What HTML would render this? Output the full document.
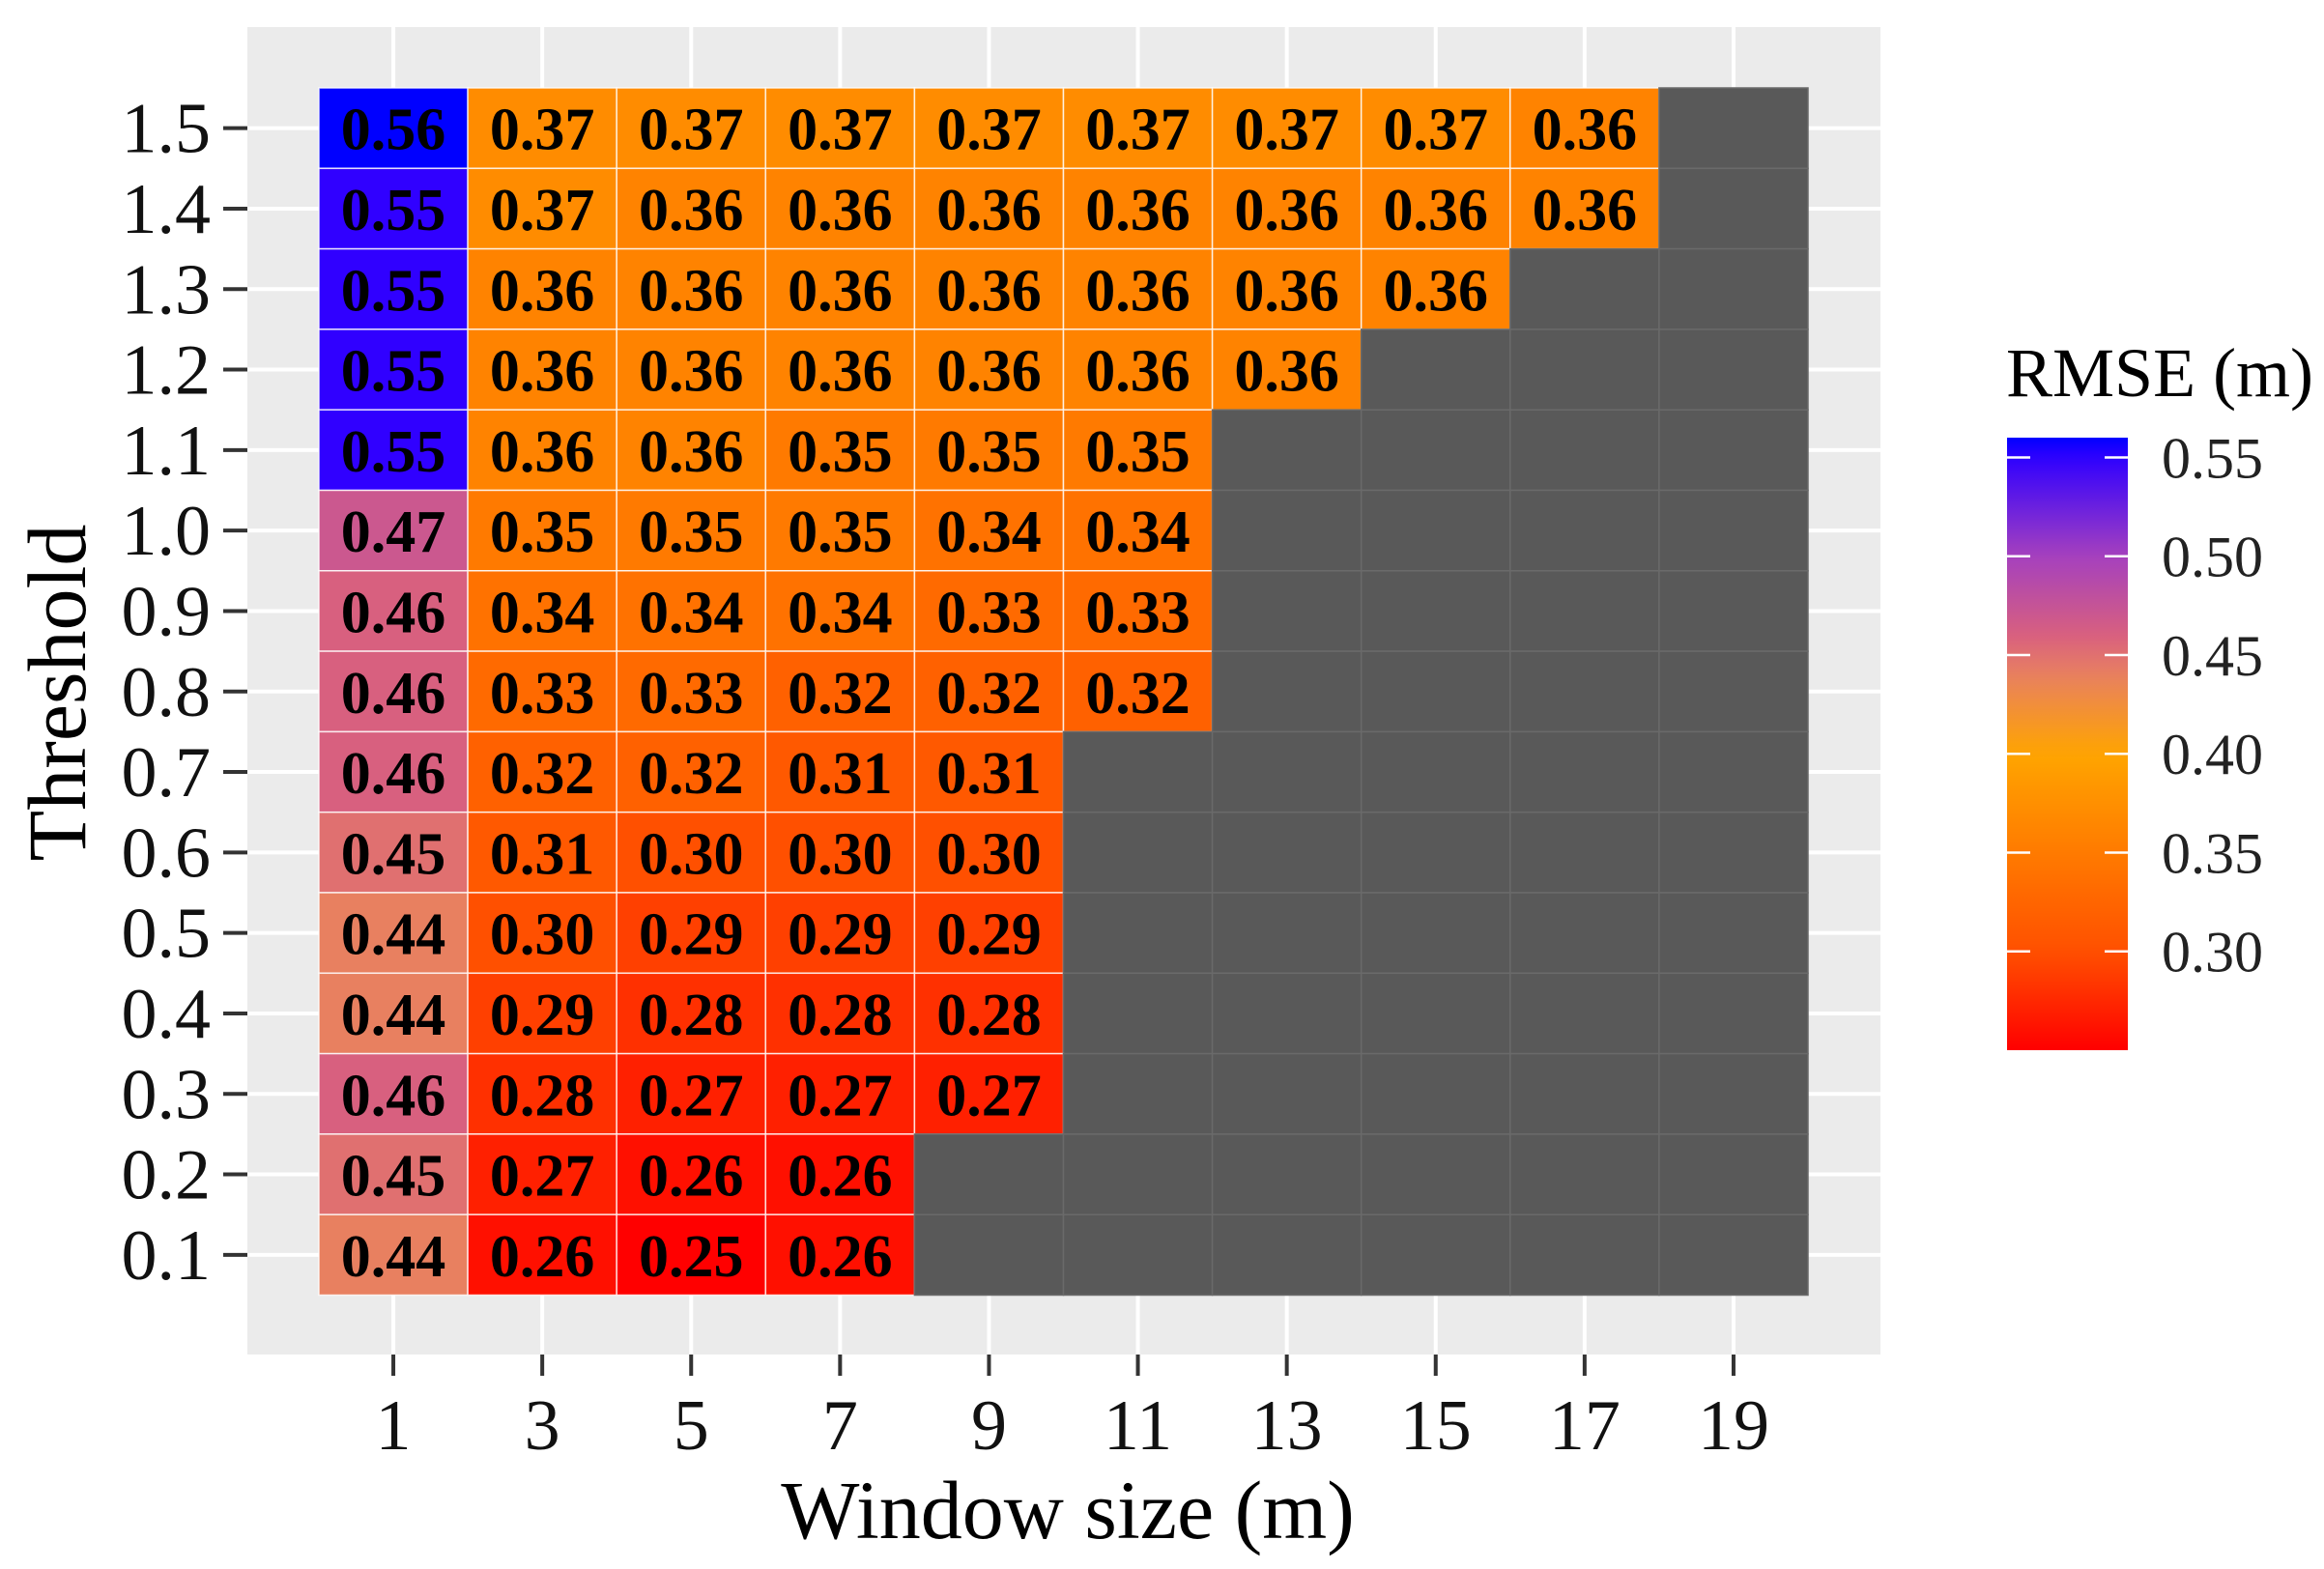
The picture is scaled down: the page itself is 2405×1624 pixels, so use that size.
<!DOCTYPE html>
<html><head><meta charset="utf-8"><style>
html,body{margin:0;padding:0;background:#fff;}
svg{display:block;}
</style></head><body>
<svg id="s" width="2405" height="1624" xmlns="http://www.w3.org/2000/svg" font-family="'Liberation Serif', serif"></svg>
<script>
const S=document.getElementById('s');
let h='';
const X0=256,X1=1946,Y0=28,Y1=1402;
h+=`<rect x="${X0}" y="${Y0}" width="${X1-X0}" height="${Y1-Y0}" fill="#ebebeb"/>`;
const W=154.1,H=83.3;
const cx=i=>330+W/2+i*W, cy=j=>91+H/2+j*H;
for(let i=0;i<10;i++)h+=`<line x1="${cx(i)}" y1="${Y0}" x2="${cx(i)}" y2="${Y1}" stroke="#fff" stroke-width="4"/>`;
for(let j=0;j<15;j++)h+=`<line x1="${X0}" y1="${cy(j)}" x2="${X1}" y2="${cy(j)}" stroke="#fff" stroke-width="4"/>`;
const D=[
[56,37,37,37,37,37,37,37,36,0],
[55,37,36,36,36,36,36,36,36,0],
[55,36,36,36,36,36,36,36,0,0],
[55,36,36,36,36,36,36,0,0,0],
[55,36,36,35,35,35,0,0,0,0],
[47,35,35,35,34,34,0,0,0,0],
[46,34,34,34,33,33,0,0,0,0],
[46,33,33,32,32,32,0,0,0,0],
[46,32,32,31,31,0,0,0,0,0],
[45,31,30,30,30,0,0,0,0,0],
[44,30,29,29,29,0,0,0,0,0],
[44,29,28,28,28,0,0,0,0,0],
[46,28,27,27,27,0,0,0,0,0],
[45,27,26,26,0,0,0,0,0,0],
[44,26,25,26,0,0,0,0,0,0]];
const stops=[[0.25,[255,0,0]],[0.30,[255,80,0]],[0.40,[255,165,0]],[0.44,[232,128,96]],[0.46,[216,96,127]],[0.50,[165,64,190]],[0.55,[48,0,255]],[0.56,[0,0,255]]];
function col(v){
 for(let k=0;k<stops.length-1;k++){const[a,ca]=stops[k],[b,cb]=stops[k+1];
  if(v<=b+1e-9){const t=Math.max(0,(v-a)/(b-a));return `rgb(${ca.map((c,n)=>Math.round(c+(cb[n]-c)*t)).join(',')})`;}}
 return 'rgb(0,0,255)';}
for(let j=0;j<15;j++)for(let i=0;i<10;i++){
 const v=D[j][i],x=cx(i)-W/2,y=cy(j)-H/2;
 h+=`<rect x="${x}" y="${y}" width="${W}" height="${H}" fill="${v?col(v/100):'#595959'}" stroke="${v?'#ffffff':'#6a6a6a'}" stroke-opacity="${v?0.8:1}" stroke-width="1.5"/>`;
 if(v)h+=`<text x="${cx(i)}" y="${cy(j)+22}" font-size="62" font-weight="bold" text-anchor="middle">0.${v}</text>`;
}
const yl=['1.5','1.4','1.3','1.2','1.1','1.0','0.9','0.8','0.7','0.6','0.5','0.4','0.3','0.2','0.1'];
yl.forEach((t,j)=>{h+=`<line x1="231" y1="${cy(j)}" x2="${X0}" y2="${cy(j)}" stroke="#333" stroke-width="4"/>`;
 h+=`<text x="218" y="${cy(j)+25}" font-size="74" text-anchor="end" fill="#111">${t}</text>`;});
[1,3,5,7,9,11,13,15,17,19].forEach((t,i)=>{h+=`<line x1="${cx(i)}" y1="${Y1}" x2="${cx(i)}" y2="${Y1+22}" stroke="#333" stroke-width="4"/>`;
 h+=`<text x="${cx(i)}" y="1500" font-size="74" text-anchor="middle" fill="#111">${t}</text>`;});
h+=`<text x="1105" y="1592" font-size="86" text-anchor="middle">Window size (m)</text>`;
h+=`<text transform="translate(88,717) rotate(-90)" font-size="86" text-anchor="middle">Threshold</text>`;
h+=`<text x="2076" y="410" font-size="72">RMSE (m)</text>`;
const CB0=453,CB1=1087,vt=0.56,vb=0.25;
h+=`<defs><linearGradient id="g" x1="0" y1="1" x2="0" y2="0">`;
for(let k=0;k<=40;k++){const v=vb+(vt-vb)*k/40;h+=`<stop offset="${k/40}" stop-color="${col(v)}"/>`;}
h+=`</linearGradient></defs><rect x="2077" y="${CB0}" width="125" height="${CB1-CB0}" fill="url(#g)"/>`;
const vy=v=>CB1-(v-vb)/(vt-vb)*(CB1-CB0);
[0.30,0.35,0.40,0.45,0.50,0.55].forEach(v=>{const y=vy(v);
 h+=`<line x1="2077" y1="${y}" x2="2101" y2="${y}" stroke="#fff" stroke-width="2.5"/><line x1="2178" y1="${y}" x2="2202" y2="${y}" stroke="#fff" stroke-width="2.5"/>`;
 h+=`<text x="2237" y="${y+21}" font-size="60" fill="#222">${v.toFixed(2)}</text>`;});
S.innerHTML=h;
</script>
</body></html>
